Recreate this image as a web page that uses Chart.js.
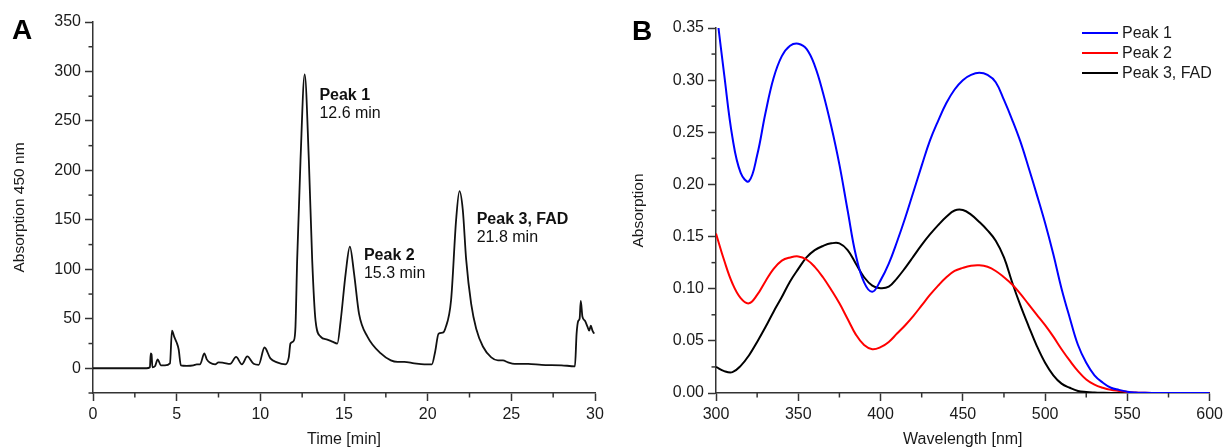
<!DOCTYPE html>
<html><head><meta charset="utf-8">
<script src="https://cdn.jsdelivr.net/npm/chart.js@4.4.1/dist/chart.umd.min.js"></script>
<style>
html,body{margin:0;padding:0;background:#fff;}
#wrap{position:relative;width:1227px;height:448px;overflow:hidden;background:#fff;}
#cA{position:absolute;left:0;top:0;width:615px;height:448px;}
#cB{position:absolute;left:615px;top:0;width:612px;height:448px;}
.pl{position:absolute;font:bold 28px "Liberation Sans",Arial,sans-serif;line-height:28px;color:#000;}
</style></head><body>
<div id="wrap">
<canvas id="cA" width="615" height="448"></canvas>
<canvas id="cB" width="612" height="448"></canvas>
<div class="pl" style="left:12px;top:16px">A</div>
<div class="pl" style="left:632px;top:17px">B</div>
</div>
<script>
// ---------- Panel A: chromatogram ----------
const timeMin = [0,3.2,3.4,3.45,3.5,3.55,3.7,3.87,4.05,4.3,4.6,4.72,4.85,5.0,5.12,5.25,5.6,6.0,6.2,6.4,6.65,6.8,7.0,7.3,7.5,7.8,8.2,8.55,8.9,9.22,9.6,9.9,10.25,10.6,11.0,11.5,11.7,11.8,12.0,12.1,12.2,12.4,12.65,12.9,13.1,13.3,13.6,14.0,14.3,14.6,14.8,15.1,15.35,15.6,15.9,16.4,17.2,17.8,18.2,18.6,19.2,19.8,20.25,20.45,20.65,20.9,21.05,21.4,21.7,21.9,22.1,22.3,22.6,22.9,23.3,23.8,24.2,24.5,24.8,25.2,26.0,26.8,28.0,28.8,28.9,29.0,29.08,29.15,29.25,29.4,29.55,29.65,29.75,29.85,29.95];
const absorption450 = [0,0,1,15,14,1,2,9,3,3,5,38,32,26,19,3,2.5,3,4,4,15,9,5.5,4,6,5.5,4.5,11.5,4,12,4.5,3.5,21,10,6,4,11,25,28,42,109,210,297,210,109,48,32,29,27,25,48,96,123,96,55,32,15,8,6.5,6.5,5,4,4,17,35,36,40,69,150,179,160,110,65,40,22,11,8,8,6,4.5,4.5,3.5,3,2,35,48,50,68,52,48,42,38,43,38,35];
const peakNames = ['Peak 1','Peak 2','Peak 3, FAD'];
const peakTimes = ['12.6 min','15.3 min','21.8 min'];
const peakLabelX = [13.53,16.19,22.93];
const peakLabelY = [271,109.2,145.6];

// ---------- Panel B: spectra ----------
const wavelengthNm = [300,305,310,315,320,325,330,335,340,345,350,355,360,365,370,375,380,385,390,395,400,405,410,415,420,425,430,435,440,445,450,455,460,465,470,475,480,485,490,495,500,505,510,515,520,525,530,535,540,545,550,555,560,565,570,575,580,585,590,595,600];
const peak1Abs = [0.37,0.305,0.245,0.211,0.203,0.228,0.268,0.302,0.323,0.333,0.335,0.330,0.314,0.288,0.256,0.219,0.175,0.132,0.106,0.097,0.108,0.124,0.145,0.168,0.193,0.218,0.242,0.261,0.278,0.291,0.300,0.305,0.307,0.305,0.298,0.281,0.262,0.241,0.216,0.190,0.163,0.133,0.100,0.072,0.046,0.029,0.017,0.010,0.005,0.003,0.0013,0.0005,0.0002,0,0,0,0,0,0,0,0];
const peak2Abs = [0.153,0.127,0.105,0.091,0.086,0.094,0.107,0.119,0.127,0.130,0.131,0.128,0.121,0.111,0.099,0.086,0.071,0.056,0.046,0.042,0.044,0.049,0.057,0.065,0.074,0.084,0.094,0.103,0.111,0.117,0.120,0.122,0.1224,0.121,0.117,0.111,0.104,0.095,0.085,0.075,0.065,0.054,0.042,0.031,0.021,0.013,0.008,0.005,0.003,0.002,0.001,0.0005,0.0002,0,0,0,0,0,0,0,0];
const peak3Abs = [0.025,0.021,0.020,0.026,0.036,0.049,0.063,0.078,0.092,0.107,0.119,0.130,0.137,0.141,0.1435,0.1435,0.137,0.124,0.111,0.103,0.1005,0.102,0.110,0.120,0.131,0.142,0.152,0.161,0.169,0.175,0.1755,0.171,0.164,0.156,0.146,0.130,0.106,0.084,0.064,0.045,0.029,0.017,0.009,0.005,0.002,0.001,0.0005,0.0002,0,0,0,0,0,0,0,0,0,0,0,0,0];
const seriesLabels = ['Peak 1','Peak 2','Peak 3, FAD'];
const seriesColors = ['#0000ff','#ff0000','#000000'];

Chart.defaults.font.family = '"Liberation Sans", Arial, sans-serif';
Chart.defaults.color = '#1a1a1a';

const AXIS = '#333333';

const minorTicks = {
  id: 'minorTicks',
  afterDraw(chart, args, opts) {
    const ctx = chart.ctx;
    ctx.save();
    ctx.strokeStyle = AXIS;
    ctx.lineWidth = 1.5;
    const xs = chart.scales.x, ys = chart.scales.y;
    for (let v = xs.min; v <= xs.max + 1e-9; v += opts.x) {
      const r = Math.round(v / opts.x);
      if (r % 2 === 0) continue;
      const px = xs.getPixelForValue(v);
      ctx.beginPath(); ctx.moveTo(px, ys.bottom); ctx.lineTo(px, ys.bottom + 4.5); ctx.stroke();
    }
    for (let v = ys.min; v <= ys.max + 1e-9; v += opts.y) {
      const r = Math.round(v / opts.y);
      if (Math.abs(r) % 2 === 0) continue;
      const py = ys.getPixelForValue(v);
      ctx.beginPath(); ctx.moveTo(xs.left, py); ctx.lineTo(xs.left - 4.5, py); ctx.stroke();
    }
    ctx.restore();
  }
};

const peakText = {
  id: 'peakText',
  afterDatasetsDraw(chart) {
    const ctx = chart.ctx;
    ctx.save();
    ctx.fillStyle = '#111';
    ctx.textBaseline = 'alphabetic';
    ctx.textAlign = 'left';
    for (let i = 0; i < peakNames.length; i++) {
      const px = chart.scales.x.getPixelForValue(peakLabelX[i]);
      const py = chart.scales.y.getPixelForValue(peakLabelY[i]);
      ctx.font = 'bold 16px "Liberation Sans", Arial, sans-serif';
      ctx.fillText(peakNames[i], px, py);
      ctx.font = '16px "Liberation Sans", Arial, sans-serif';
      ctx.fillText(peakTimes[i], px, py + 18);
    }
    ctx.restore();
  }
};

const lineLegend = {
  id: 'lineLegend',
  afterDraw(chart) {
    const ctx = chart.ctx;
    ctx.save();
    ctx.font = '16px "Liberation Sans", Arial, sans-serif';
    ctx.textBaseline = 'middle';
    ctx.textAlign = 'left';
    chart.data.datasets.forEach((ds, i) => {
      const y = 33 + i * 20;
      ctx.strokeStyle = ds.borderColor;
      ctx.lineWidth = 2;
      ctx.beginPath(); ctx.moveTo(467, y); ctx.lineTo(503, y); ctx.stroke();
      ctx.fillStyle = '#1a1a1a';
      ctx.fillText(ds.label, 507, y + 1);
    });
    ctx.restore();
  }
};

function axisX(min, max, step, title, height) {
  return {
    type: 'linear', min, max,
    ticks: { stepSize: step, font: { size: 16 }, color: '#1a1a1a', padding: 4, maxRotation: 0, autoSkip: false },
    grid: { display: true, drawOnChartArea: false, drawTicks: true, tickLength: 8, tickColor: AXIS, tickWidth: 1.5 },
    border: { display: true, color: AXIS, width: 1.5 },
    title: { display: true, text: title, font: { size: 16, lineHeight: 1 }, color: '#1a1a1a', padding: { top: 0, bottom: 0 } },
    afterFit: s => { s.height = height; }
  };
}

// Chart A
new Chart(document.getElementById('cA'), {
  type: 'line',
  data: { datasets: [{
    label: 'Absorption 450 nm',
    data: timeMin.map((t, i) => ({ x: t, y: absorption450[i] })),
    borderColor: '#111', borderWidth: 1.8, pointRadius: 0, fill: false,
    cubicInterpolationMode: 'monotone'
  }]},
  options: {
    responsive: false, animation: false, devicePixelRatio: 1,
    layout: { padding: { left: 0, top: 22, right: 20, bottom: 0 } },
    plugins: { legend: { display: false }, tooltip: { enabled: false }, minorTicks: { x: 2.5, y: 25 } },
    scales: {
      x: axisX(0, 30, 5, 'Time [min]', 55),
      y: {
        type: 'linear', min: -25, max: 350,
        ticks: { stepSize: 50, font: { size: 16 }, color: '#1a1a1a', padding: 4, callback: v => v < 0 ? '' : v },
        grid: { display: true, drawOnChartArea: false, drawTicks: true, tickLength: 8, tickWidth: 1.5,
                tickColor: c => (c.tick && c.tick.value < 0) ? 'rgba(0,0,0,0)' : AXIS },
        border: { display: true, color: AXIS, width: 1.5 },
        title: { display: true, text: 'Absorption 450 nm', font: { size: 15.5, lineHeight: 1 }, color: '#1a1a1a', padding: { top: 11.5, bottom: 0 } },
        afterFit: s => { s.width = 93; }
      }
    }
  },
  plugins: [minorTicks, peakText]
});

// Chart B
new Chart(document.getElementById('cB'), {
  type: 'line',
  data: { datasets: [peak1Abs, peak2Abs, peak3Abs].map((arr, k) => ({
    label: seriesLabels[k],
    data: wavelengthNm.map((w, i) => ({ x: w, y: arr[i] })),
    borderColor: seriesColors[k], borderWidth: 2, pointRadius: 0, fill: false,
    tension: 0.4
  }))},
  options: {
    responsive: false, animation: false, devicePixelRatio: 1,
    layout: { padding: { left: 0, top: 28, right: 17, bottom: 0 } },
    plugins: { legend: { display: false }, tooltip: { enabled: false }, minorTicks: { x: 25, y: 0.025 } },
    scales: {
      x: axisX(300, 600, 50, 'Wavelength [nm]', 55),
      y: {
        type: 'linear', min: 0, max: 0.35,
        ticks: { stepSize: 0.05, font: { size: 16 }, color: '#1a1a1a', padding: 4, callback: v => Number(v).toFixed(2) },
        grid: { display: true, drawOnChartArea: false, drawTicks: true, tickLength: 8, tickWidth: 1.5, tickColor: AXIS },
        border: { display: true, color: AXIS, width: 1.5 },
        title: { display: true, text: 'Absorption', font: { size: 15.5, lineHeight: 1 }, color: '#1a1a1a', padding: { top: 15.5, bottom: 0 } },
        afterFit: s => { s.width = 101; }
      }
    }
  },
  plugins: [minorTicks, lineLegend]
});
</script>
</body></html>
